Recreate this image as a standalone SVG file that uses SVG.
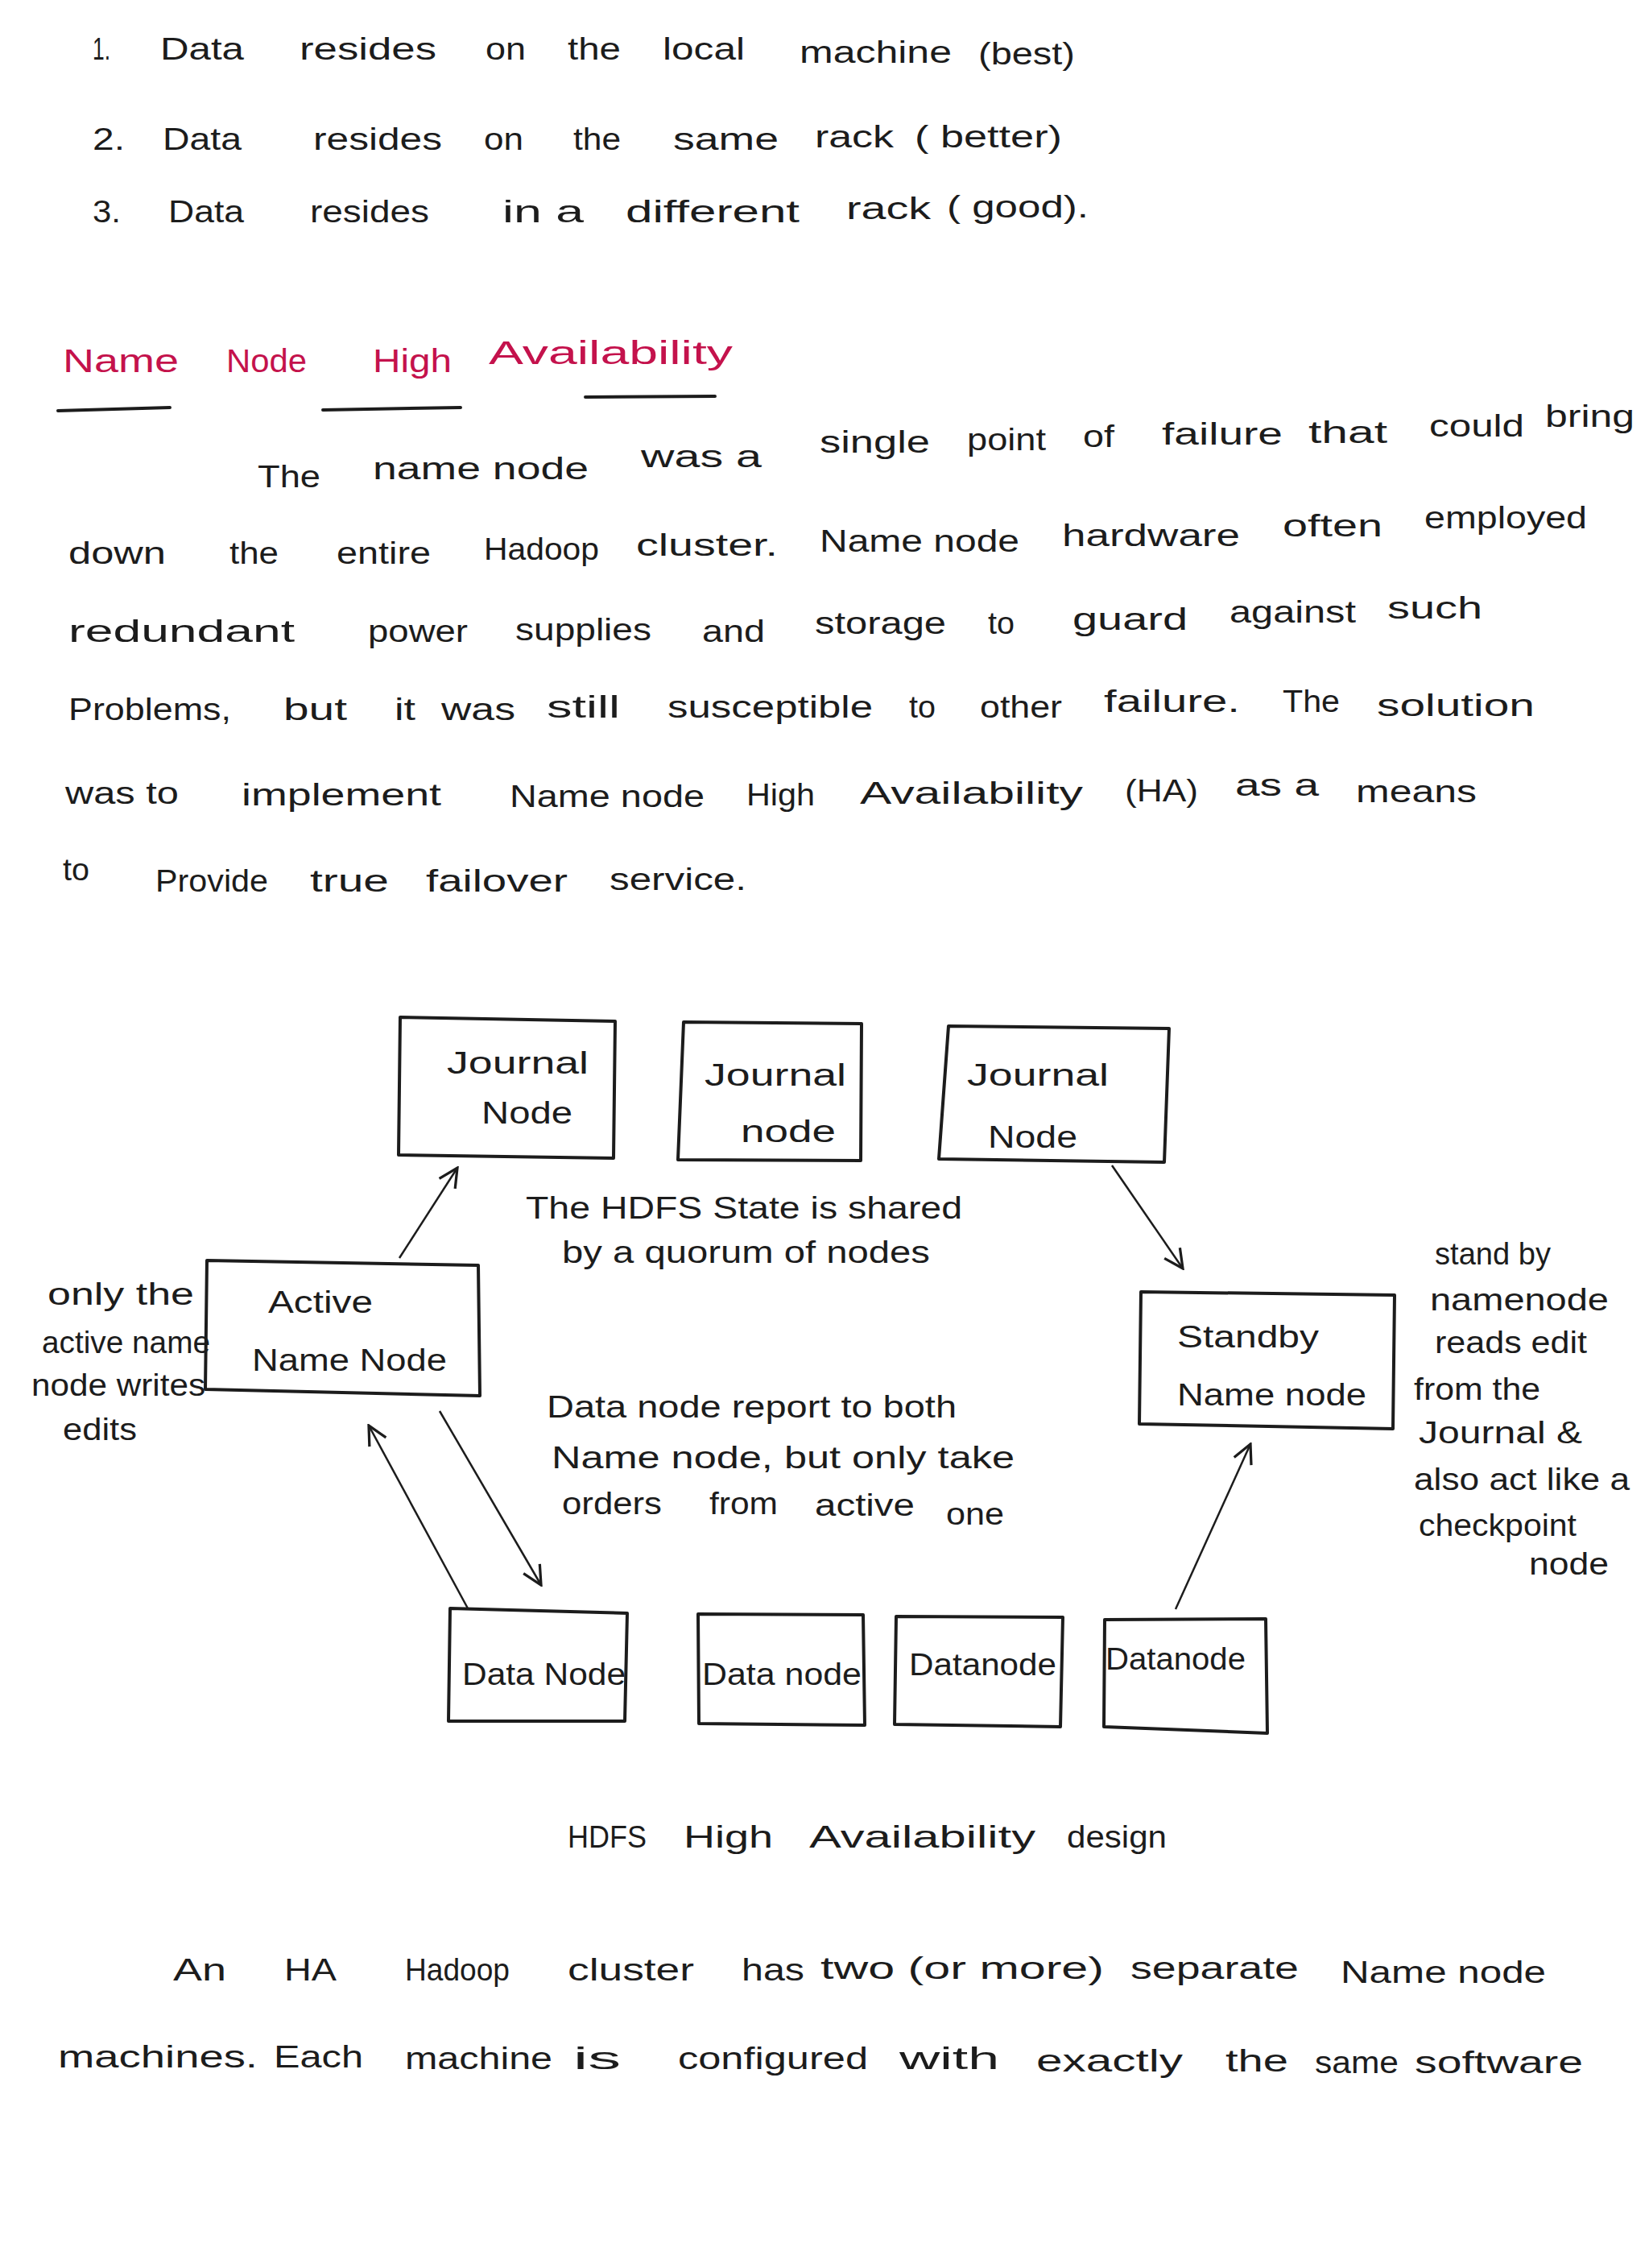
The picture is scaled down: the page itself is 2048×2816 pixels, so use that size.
<svg xmlns="http://www.w3.org/2000/svg" width="2048" height="2816" viewBox="0 0 2048 2816">
<style>
text{font-family:"Liberation Sans","DejaVu Sans",sans-serif;font-size:38px;fill:#1c1c1c}
.h text{fill:#c4124c;font-size:40px}
.box{fill:none;stroke:#1c1c1c;stroke-width:4;stroke-linejoin:round}
.con{fill:none;stroke:#1c1c1c;stroke-width:2.5}
.ul{stroke:#1c1c1c;stroke-width:4;stroke-linecap:round}
</style>
<defs>
<marker id="arr" viewBox="0 0 12 12" refX="11" refY="6" markerWidth="28" markerHeight="28" markerUnits="userSpaceOnUse" orient="auto">
<path d="M1,1 L11,6 L1,11" fill="none" stroke="#1c1c1c" stroke-width="1.4"/>
</marker>
</defs>
<rect width="2048" height="2816" fill="#ffffff"/>

<g id="list">
<text x="115" y="74" textLength="22" lengthAdjust="spacingAndGlyphs">1.</text>
<text x="199" y="74" textLength="104" lengthAdjust="spacingAndGlyphs">Data</text>
<text x="372" y="74" textLength="170" lengthAdjust="spacingAndGlyphs">resides</text>
<text x="603" y="74" textLength="50" lengthAdjust="spacingAndGlyphs">on</text>
<text x="705" y="74" textLength="66" lengthAdjust="spacingAndGlyphs">the</text>
<text x="823" y="74" textLength="102" lengthAdjust="spacingAndGlyphs">local</text>
<text x="993" y="78" textLength="189" lengthAdjust="spacingAndGlyphs">machine</text>
<text x="1215" y="80" textLength="120" lengthAdjust="spacingAndGlyphs">(best)</text>

<text x="115" y="186" textLength="40" lengthAdjust="spacingAndGlyphs">2.</text>
<text x="202" y="186" textLength="98" lengthAdjust="spacingAndGlyphs">Data</text>
<text x="389" y="186" textLength="160" lengthAdjust="spacingAndGlyphs">resides</text>
<text x="601" y="186" textLength="49" lengthAdjust="spacingAndGlyphs">on</text>
<text x="712" y="186" textLength="59" lengthAdjust="spacingAndGlyphs">the</text>
<text x="836" y="186" textLength="131" lengthAdjust="spacingAndGlyphs">same</text>
<text x="1012" y="183" textLength="98" lengthAdjust="spacingAndGlyphs">rack</text>
<text x="1136" y="183" textLength="183" lengthAdjust="spacingAndGlyphs">( better)</text>

<text x="115" y="276" textLength="35" lengthAdjust="spacingAndGlyphs">3.</text>
<text x="209" y="276" textLength="94" lengthAdjust="spacingAndGlyphs">Data</text>
<text x="385" y="276" textLength="148" lengthAdjust="spacingAndGlyphs">resides</text>
<text x="624" y="276" textLength="101" lengthAdjust="spacingAndGlyphs">in a</text>
<text x="777" y="276" textLength="216" lengthAdjust="spacingAndGlyphs">different</text>
<text x="1051" y="272" textLength="105" lengthAdjust="spacingAndGlyphs">rack</text>
<text x="1176" y="270" textLength="176" lengthAdjust="spacingAndGlyphs">( good).</text>
</g>

<g id="heading" class="h">
<text x="78" y="462" textLength="144" lengthAdjust="spacingAndGlyphs">Name</text>
<text x="281" y="462" textLength="100" lengthAdjust="spacingAndGlyphs">Node</text>
<text x="463" y="462" textLength="98" lengthAdjust="spacingAndGlyphs">High</text>
<text x="607" y="452" textLength="303" lengthAdjust="spacingAndGlyphs">Availability</text>
<line class="ul" x1="72" y1="510" x2="211" y2="506"/>
<line class="ul" x1="401" y1="509" x2="572" y2="506"/>
<line class="ul" x1="727" y1="493" x2="888" y2="492"/>
</g>

<g id="paragraph">
<text x="320" y="605" textLength="78" lengthAdjust="spacingAndGlyphs">The</text>
<text x="463" y="595" textLength="268" lengthAdjust="spacingAndGlyphs">name node</text>
<text x="796" y="580" textLength="150" lengthAdjust="spacingAndGlyphs">was a</text>
<text x="1018" y="562" textLength="137" lengthAdjust="spacingAndGlyphs">single</text>
<text x="1201" y="559" textLength="98" lengthAdjust="spacingAndGlyphs">point</text>
<text x="1345" y="555" textLength="39" lengthAdjust="spacingAndGlyphs">of</text>
<text x="1443" y="552" textLength="150" lengthAdjust="spacingAndGlyphs">failure</text>
<text x="1625" y="550" textLength="98" lengthAdjust="spacingAndGlyphs">that</text>
<text x="1775" y="542" textLength="118" lengthAdjust="spacingAndGlyphs">could</text>
<text x="1919" y="530" textLength="111" lengthAdjust="spacingAndGlyphs">bring</text>

<text x="85" y="700" textLength="121" lengthAdjust="spacingAndGlyphs">down</text>
<text x="285" y="700" textLength="61" lengthAdjust="spacingAndGlyphs">the</text>
<text x="418" y="700" textLength="117" lengthAdjust="spacingAndGlyphs">entire</text>
<text x="601" y="695" textLength="143" lengthAdjust="spacingAndGlyphs">Hadoop</text>
<text x="790" y="690" textLength="176" lengthAdjust="spacingAndGlyphs">cluster.</text>
<text x="1018" y="685" textLength="248" lengthAdjust="spacingAndGlyphs">Name node</text>
<text x="1319" y="678" textLength="221" lengthAdjust="spacingAndGlyphs">hardware</text>
<text x="1593" y="666" textLength="124" lengthAdjust="spacingAndGlyphs">often</text>
<text x="1769" y="656" textLength="202" lengthAdjust="spacingAndGlyphs">employed</text>

<text x="85" y="797" textLength="281" lengthAdjust="spacingAndGlyphs">redundant</text>
<text x="457" y="797" textLength="124" lengthAdjust="spacingAndGlyphs">power</text>
<text x="640" y="795" textLength="169" lengthAdjust="spacingAndGlyphs">supplies</text>
<text x="872" y="797" textLength="78" lengthAdjust="spacingAndGlyphs">and</text>
<text x="1012" y="787" textLength="163" lengthAdjust="spacingAndGlyphs">storage</text>
<text x="1227" y="787" textLength="33" lengthAdjust="spacingAndGlyphs">to</text>
<text x="1332" y="782" textLength="143" lengthAdjust="spacingAndGlyphs">guard</text>
<text x="1527" y="773" textLength="157" lengthAdjust="spacingAndGlyphs">against</text>
<text x="1723" y="768" textLength="118" lengthAdjust="spacingAndGlyphs">such</text>

<text x="85" y="894" textLength="202" lengthAdjust="spacingAndGlyphs">Problems,</text>
<text x="352" y="894" textLength="79" lengthAdjust="spacingAndGlyphs">but</text>
<text x="490" y="894" textLength="26" lengthAdjust="spacingAndGlyphs">it</text>
<text x="548" y="894" textLength="92" lengthAdjust="spacingAndGlyphs">was</text>
<text x="679" y="891" textLength="91" lengthAdjust="spacingAndGlyphs">still</text>
<text x="829" y="891" textLength="255" lengthAdjust="spacingAndGlyphs">susceptible</text>
<text x="1129" y="891" textLength="33" lengthAdjust="spacingAndGlyphs">to</text>
<text x="1217" y="891" textLength="102" lengthAdjust="spacingAndGlyphs">other</text>
<text x="1371" y="884" textLength="169" lengthAdjust="spacingAndGlyphs">failure.</text>
<text x="1593" y="884" textLength="71" lengthAdjust="spacingAndGlyphs">The</text>
<text x="1710" y="889" textLength="196" lengthAdjust="spacingAndGlyphs">solution</text>

<text x="81" y="998" textLength="141" lengthAdjust="spacingAndGlyphs">was to</text>
<text x="300" y="1000" textLength="248" lengthAdjust="spacingAndGlyphs">implement</text>
<text x="633" y="1002" textLength="242" lengthAdjust="spacingAndGlyphs">Name node</text>
<text x="927" y="1000" textLength="85" lengthAdjust="spacingAndGlyphs">High</text>
<text x="1068" y="998" textLength="277" lengthAdjust="spacingAndGlyphs">Availability</text>
<text x="1397" y="995" textLength="91" lengthAdjust="spacingAndGlyphs">(HA)</text>
<text x="1534" y="988" textLength="104" lengthAdjust="spacingAndGlyphs">as a</text>
<text x="1684" y="996" textLength="150" lengthAdjust="spacingAndGlyphs">means</text>

<text x="78" y="1093" textLength="33" lengthAdjust="spacingAndGlyphs">to</text>
<text x="193" y="1107" textLength="140" lengthAdjust="spacingAndGlyphs">Provide</text>
<text x="385" y="1107" textLength="98" lengthAdjust="spacingAndGlyphs">true</text>
<text x="529" y="1107" textLength="176" lengthAdjust="spacingAndGlyphs">failover</text>
<text x="757" y="1105" textLength="170" lengthAdjust="spacingAndGlyphs">service.</text>
</g>

<g id="connectors">
<line class="con" x1="496" y1="1562" x2="568" y2="1450" marker-end="url(#arr)"/>
<line class="con" x1="1381" y1="1447" x2="1469" y2="1575" marker-end="url(#arr)"/>
<line class="con" x1="581" y1="1997" x2="458" y2="1770" marker-end="url(#arr)"/>
<line class="con" x1="546" y1="1752" x2="672" y2="1968" marker-end="url(#arr)"/>
<line class="con" x1="1460" y1="1998" x2="1553" y2="1793" marker-end="url(#arr)"/>
</g>

<g id="journal1">
<polygon class="box" points="497,1263 764,1268 762,1438 495,1434"/>
<text x="555" y="1333" textLength="176" lengthAdjust="spacingAndGlyphs">Journal</text>
<text x="598" y="1395" textLength="113" lengthAdjust="spacingAndGlyphs">Node</text>
</g>
<g id="journal2">
<polygon class="box" points="849,1269 1070,1271 1069,1441 842,1440"/>
<text x="875" y="1348" textLength="176" lengthAdjust="spacingAndGlyphs">Journal</text>
<text x="920" y="1418" textLength="118" lengthAdjust="spacingAndGlyphs">node</text>
</g>
<g id="journal3">
<polygon class="box" points="1178,1274 1452,1277 1446,1443 1166,1439"/>
<text x="1201" y="1348" textLength="176" lengthAdjust="spacingAndGlyphs">Journal</text>
<text x="1227" y="1425" textLength="111" lengthAdjust="spacingAndGlyphs">Node</text>
</g>

<g id="hdfs-state-note">
<text x="653" y="1513" textLength="542" lengthAdjust="spacingAndGlyphs">The HDFS State is shared</text>
<text x="698" y="1568" textLength="457" lengthAdjust="spacingAndGlyphs">by a quorum of nodes</text>
</g>

<g id="active-namenode">
<polygon class="box" points="257,1565 594,1571 596,1733 255,1725"/>
<text x="333" y="1630" textLength="130" lengthAdjust="spacingAndGlyphs">Active</text>
<text x="313" y="1702" textLength="242" lengthAdjust="spacingAndGlyphs">Name Node</text>
</g>

<g id="active-note">
<text x="59" y="1620" textLength="182" lengthAdjust="spacingAndGlyphs">only the</text>
<text x="52" y="1680" textLength="209" lengthAdjust="spacingAndGlyphs">active name</text>
<text x="39" y="1733" textLength="216" lengthAdjust="spacingAndGlyphs">node writes</text>
<text x="78" y="1788" textLength="92" lengthAdjust="spacingAndGlyphs">edits</text>
</g>

<g id="standby-namenode">
<polygon class="box" points="1417,1604 1732,1608 1730,1774 1415,1768"/>
<text x="1462" y="1673" textLength="176" lengthAdjust="spacingAndGlyphs">Standby</text>
<text x="1462" y="1745" textLength="235" lengthAdjust="spacingAndGlyphs">Name node</text>
</g>

<g id="standby-note">
<text x="1782" y="1570" textLength="144" lengthAdjust="spacingAndGlyphs">stand by</text>
<text x="1776" y="1627" textLength="222" lengthAdjust="spacingAndGlyphs">namenode</text>
<text x="1782" y="1680" textLength="189" lengthAdjust="spacingAndGlyphs">reads edit</text>
<text x="1756" y="1738" textLength="157" lengthAdjust="spacingAndGlyphs">from the</text>
<text x="1762" y="1792" textLength="203" lengthAdjust="spacingAndGlyphs">Journal &amp;</text>
<text x="1756" y="1850" textLength="268" lengthAdjust="spacingAndGlyphs">also act like a</text>
<text x="1762" y="1907" textLength="196" lengthAdjust="spacingAndGlyphs">checkpoint</text>
<text x="1899" y="1955" textLength="99" lengthAdjust="spacingAndGlyphs">node</text>
</g>

<g id="datanode-note">
<text x="679" y="1760" textLength="509" lengthAdjust="spacingAndGlyphs">Data node report to both</text>
<text x="685" y="1823" textLength="575" lengthAdjust="spacingAndGlyphs">Name node, but only take</text>
<text x="698" y="1880" textLength="124" lengthAdjust="spacingAndGlyphs">orders</text>
<text x="881" y="1880" textLength="85" lengthAdjust="spacingAndGlyphs">from</text>
<text x="1012" y="1882" textLength="124" lengthAdjust="spacingAndGlyphs">active</text>
<text x="1175" y="1893" textLength="72" lengthAdjust="spacingAndGlyphs">one</text>
</g>

<g id="datanode1">
<polygon class="box" points="559,1997 779,2003 776,2137 557,2137"/>
<text x="574" y="2092" textLength="203" lengthAdjust="spacingAndGlyphs">Data Node</text>
</g>
<g id="datanode2">
<polygon class="box" points="867,2004 1072,2005 1074,2142 868,2140"/>
<text x="872" y="2092" textLength="198" lengthAdjust="spacingAndGlyphs">Data node</text>
</g>
<g id="datanode3">
<polygon class="box" points="1113,2007 1320,2008 1317,2144 1111,2141"/>
<text x="1129" y="2080" textLength="183" lengthAdjust="spacingAndGlyphs">Datanode</text>
</g>
<g id="datanode4">
<polygon class="box" points="1372,2011 1572,2010 1574,2152 1371,2144"/>
<text x="1373" y="2073" textLength="174" lengthAdjust="spacingAndGlyphs">Datanode</text>
</g>

<g id="caption">
<text x="705" y="2294" textLength="98" lengthAdjust="spacingAndGlyphs">HDFS</text>
<text x="849" y="2294" textLength="111" lengthAdjust="spacingAndGlyphs">High</text>
<text x="1005" y="2294" textLength="281" lengthAdjust="spacingAndGlyphs">Availability</text>
<text x="1325" y="2294" textLength="124" lengthAdjust="spacingAndGlyphs">design</text>
</g>

<g id="closing-text">
<text x="215" y="2459" textLength="66" lengthAdjust="spacingAndGlyphs">An</text>
<text x="353" y="2459" textLength="65" lengthAdjust="spacingAndGlyphs">HA</text>
<text x="503" y="2459" textLength="130" lengthAdjust="spacingAndGlyphs">Hadoop</text>
<text x="705" y="2459" textLength="157" lengthAdjust="spacingAndGlyphs">cluster</text>
<text x="921" y="2459" textLength="78" lengthAdjust="spacingAndGlyphs">has</text>
<text x="1019" y="2457" textLength="352" lengthAdjust="spacingAndGlyphs">two (or more)</text>
<text x="1404" y="2457" textLength="209" lengthAdjust="spacingAndGlyphs">separate</text>
<text x="1665" y="2462" textLength="255" lengthAdjust="spacingAndGlyphs">Name node</text>

<text x="72" y="2567" textLength="248" lengthAdjust="spacingAndGlyphs">machines.</text>
<text x="340" y="2567" textLength="111" lengthAdjust="spacingAndGlyphs">Each</text>
<text x="503" y="2569" textLength="183" lengthAdjust="spacingAndGlyphs">machine</text>
<text x="712" y="2569" textLength="59" lengthAdjust="spacingAndGlyphs">is</text>
<text x="842" y="2569" textLength="236" lengthAdjust="spacingAndGlyphs">configured</text>
<text x="1117" y="2569" textLength="124" lengthAdjust="spacingAndGlyphs">with</text>
<text x="1287" y="2572" textLength="182" lengthAdjust="spacingAndGlyphs">exactly</text>
<text x="1522" y="2572" textLength="78" lengthAdjust="spacingAndGlyphs">the</text>
<text x="1633" y="2574" textLength="104" lengthAdjust="spacingAndGlyphs">same</text>
<text x="1757" y="2574" textLength="209" lengthAdjust="spacingAndGlyphs">software</text>
</g>
</svg>
